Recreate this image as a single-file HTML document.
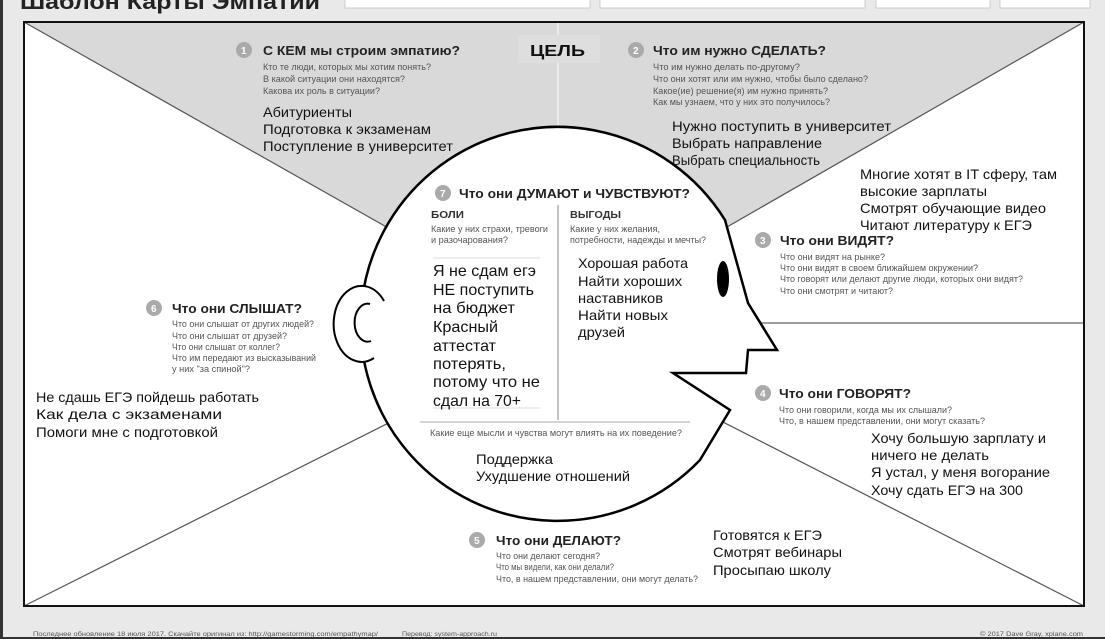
<!DOCTYPE html>
<html><head><meta charset="utf-8"><style>
html,body{margin:0;padding:0;background:#e9e9e9;}
svg{display:block;font-family:"Liberation Sans","DejaVu Sans",sans-serif;}
.q{font-size:9px;fill:#555;}
.h{font-size:13px;font-weight:bold;fill:#222;}
.a{font-size:14px;fill:#111;}
.n{fill:#aaa;}
.nt{font-size:10px;fill:#fff;font-weight:bold;}
</style></head><body>
<svg width="1105" height="639" viewBox="0 0 1105 639" xmlns="http://www.w3.org/2000/svg">
<rect x="0" y="0" width="1105" height="639" fill="#e9e9e9"/>
<rect x="0" y="0" width="3" height="639" fill="#333"/>
<rect x="0" y="637" width="1105" height="2" fill="#333"/>
<!-- top title strip -->
<text x="20" y="9" font-size="21" font-weight="bold" fill="#222" textLength="300" lengthAdjust="spacingAndGlyphs">Шаблон Карты Эмпатии</text>
<rect x="345" y="-2" width="245" height="10" fill="#fff" stroke="#ccc"/>
<rect x="600" y="-2" width="265" height="10" fill="#fff" stroke="#ccc"/>
<rect x="876" y="-2" width="114" height="10" fill="#fff" stroke="#ccc"/>
<rect x="1000" y="-2" width="90" height="10" fill="#fff" stroke="#ccc"/>
<!-- frame -->
<rect x="24" y="22" width="1060" height="584" fill="#fff"/>
<polygon points="24,22 1084,22 558,324" fill="#d9d9d9"/>
<line x1="558" y1="22" x2="558" y2="130" stroke="#f2f2f2" stroke-width="1.5"/>
<rect x="518" y="35" width="82" height="28" fill="#dedede"/>
<line x1="24" y1="22" x2="558" y2="324" stroke="#555" stroke-width="1.2"/>
<line x1="1084" y1="22" x2="558" y2="324" stroke="#555" stroke-width="1.2"/>
<line x1="24" y1="606" x2="558" y2="338" stroke="#555" stroke-width="1.2"/>
<line x1="1084" y1="606" x2="558" y2="338" stroke="#555" stroke-width="1.2"/>
<line x1="740" y1="323" x2="1084" y2="323" stroke="#666" stroke-width="1.2"/>
<rect x="24" y="22" width="1060" height="584" fill="none" stroke="#111" stroke-width="2"/>
<!-- head -->
<path d="M725,220 L748,303 L777,350 L748,350 L746,373 L673,373 L730,410 L700,460 A197 197 0 1 1 725 220 Z" fill="#fff" stroke="#000" stroke-width="2.5" stroke-linejoin="miter"/>
<ellipse cx="723" cy="279" rx="6" ry="18" fill="#000"/>
<path d="M384,301 A28 38 0 1 0 374,358" fill="#fff" stroke="#000" stroke-width="2"/>
<path d="M370,304 A13 19 0 1 0 371,341" fill="none" stroke="#000" stroke-width="2"/>
<!-- inner dividers -->
<line x1="558" y1="205" x2="558" y2="420" stroke="#999" stroke-width="1.2"/>
<line x1="420" y1="422" x2="690" y2="422" stroke="#bbb" stroke-width="1.2"/>
<line x1="433" y1="258" x2="540" y2="258" stroke="#ddd" stroke-width="1"/>
<line x1="433" y1="408" x2="540" y2="408" stroke="#ddd" stroke-width="1"/>

<!-- ЦЕЛЬ -->
<text x="530" y="56" font-size="16" font-weight="bold" fill="#111" textLength="55" lengthAdjust="spacingAndGlyphs">ЦЕЛЬ</text>

<!-- 1 -->
<circle class="n" cx="244" cy="50" r="8"/><text class="nt" x="241" y="54">1</text>
<text class="h" x="263" y="55" textLength="197" lengthAdjust="spacingAndGlyphs">С КЕМ мы строим эмпатию?</text>
<text class="q" x="263" y="70" textLength="168" lengthAdjust="spacingAndGlyphs">Кто те люди, которых мы хотим понять?</text>
<text class="q" x="263" y="82" textLength="142" lengthAdjust="spacingAndGlyphs">В какой ситуации они находятся?</text>
<text class="q" x="263" y="94" textLength="117" lengthAdjust="spacingAndGlyphs">Какова их роль в ситуации?</text>
<text class="a" x="263" y="117" textLength="89" lengthAdjust="spacingAndGlyphs">Абитуриенты</text>
<text class="a" x="263" y="134" textLength="168" lengthAdjust="spacingAndGlyphs">Подготовка к экзаменам</text>
<text class="a" x="263" y="151" textLength="190" lengthAdjust="spacingAndGlyphs">Поступление в университет</text>

<!-- 2 -->
<circle class="n" cx="636" cy="50" r="8"/><text class="nt" x="633" y="54">2</text>
<text class="h" x="653" y="55" textLength="173" lengthAdjust="spacingAndGlyphs">Что им нужно СДЕЛАТЬ?</text>
<text class="q" x="653" y="70" textLength="147" lengthAdjust="spacingAndGlyphs">Что им нужно делать по-другому?</text>
<text class="q" x="653" y="82" textLength="215" lengthAdjust="spacingAndGlyphs">Что они хотят или им нужно, чтобы было сделано?</text>
<text class="q" x="653" y="94" textLength="175" lengthAdjust="spacingAndGlyphs">Какое(ие) решение(я) им нужно принять?</text>
<text class="q" x="653" y="105" textLength="177" lengthAdjust="spacingAndGlyphs">Как мы узнаем, что у них это получилось?</text>
<text class="a" x="672" y="131" textLength="219" lengthAdjust="spacingAndGlyphs">Нужно поступить в университет</text>
<text class="a" x="672" y="148" textLength="150" lengthAdjust="spacingAndGlyphs">Выбрать направление</text>
<text class="a" x="672" y="165" textLength="148" lengthAdjust="spacingAndGlyphs">Выбрать специальность</text>

<text class="a" x="860" y="179" textLength="197" lengthAdjust="spacingAndGlyphs">Многие хотят в IT сферу, там</text>
<text class="a" x="860" y="196" textLength="127" lengthAdjust="spacingAndGlyphs">высокие зарплаты</text>
<text class="a" x="860" y="213" textLength="186" lengthAdjust="spacingAndGlyphs">Смотрят обучающие видео</text>
<text class="a" x="860" y="230" textLength="172" lengthAdjust="spacingAndGlyphs">Читают литературу к ЕГЭ</text>

<!-- 3 -->
<circle class="n" cx="763" cy="240" r="8"/><text class="nt" x="760" y="244">3</text>
<text class="h" x="780" y="245" textLength="114" lengthAdjust="spacingAndGlyphs">Что они ВИДЯТ?</text>
<text class="q" x="780" y="260" textLength="105" lengthAdjust="spacingAndGlyphs">Что они видят на рынке?</text>
<text class="q" x="780" y="271" textLength="198" lengthAdjust="spacingAndGlyphs">Что они видят в своем ближайшем окружении?</text>
<text class="q" x="780" y="282" textLength="243" lengthAdjust="spacingAndGlyphs">Что говорят или делают другие люди, которых они видят?</text>
<text class="q" x="780" y="294" textLength="113" lengthAdjust="spacingAndGlyphs">Что они смотрят и читают?</text>

<!-- 4 -->
<circle class="n" cx="763" cy="393" r="8"/><text class="nt" x="760" y="397">4</text>
<text class="h" x="779" y="398" textLength="132" lengthAdjust="spacingAndGlyphs">Что они ГОВОРЯТ?</text>
<text class="q" x="779" y="413" textLength="173" lengthAdjust="spacingAndGlyphs">Что они говорили, когда мы их слышали?</text>
<text class="q" x="779" y="424" textLength="206" lengthAdjust="spacingAndGlyphs">Что, в нашем представлении, они могут сказать?</text>
<text class="a" x="871" y="443" textLength="175" lengthAdjust="spacingAndGlyphs">Хочу большую зарплату и</text>
<text class="a" x="871" y="460" textLength="118" lengthAdjust="spacingAndGlyphs">ничего не делать</text>
<text class="a" x="871" y="477" textLength="179" lengthAdjust="spacingAndGlyphs">Я устал, у меня вогорание</text>
<text class="a" x="871" y="495" textLength="152" lengthAdjust="spacingAndGlyphs">Хочу сдать ЕГЭ на 300</text>

<!-- 5 -->
<circle class="n" cx="477" cy="540" r="8"/><text class="nt" x="474" y="544">5</text>
<text class="h" x="496" y="545" textLength="125" lengthAdjust="spacingAndGlyphs">Что они ДЕЛАЮТ?</text>
<text class="q" x="496" y="559" textLength="104" lengthAdjust="spacingAndGlyphs">Что они делают сегодня?</text>
<text class="q" x="496" y="570" textLength="118" lengthAdjust="spacingAndGlyphs">Что мы видели, как они делали?</text>
<text class="q" x="496" y="582" textLength="202" lengthAdjust="spacingAndGlyphs">Что, в нашем представлении, они могут делать?</text>
<text class="a" x="713" y="540" textLength="109" lengthAdjust="spacingAndGlyphs">Готовятся к ЕГЭ</text>
<text class="a" x="713" y="557" textLength="129" lengthAdjust="spacingAndGlyphs">Смотрят вебинары</text>
<text class="a" x="713" y="575" textLength="118" lengthAdjust="spacingAndGlyphs">Просыпаю школу</text>

<!-- 6 -->
<circle class="n" cx="154" cy="308" r="8"/><text class="nt" x="151" y="312">6</text>
<text class="h" x="172" y="313" textLength="130" lengthAdjust="spacingAndGlyphs">Что они СЛЫШАТ?</text>
<text class="q" x="172" y="327" textLength="142" lengthAdjust="spacingAndGlyphs">Что они слышат от других людей?</text>
<text class="q" x="172" y="339" textLength="115" lengthAdjust="spacingAndGlyphs">Что они слышат от друзей?</text>
<text class="q" x="172" y="350" textLength="108" lengthAdjust="spacingAndGlyphs">Что они слышат от коллег?</text>
<text class="q" x="172" y="361" textLength="144" lengthAdjust="spacingAndGlyphs">Что им передают из высказываний</text>
<text class="q" x="172" y="372" textLength="78" lengthAdjust="spacingAndGlyphs">у них "за спиной"?</text>
<text class="a" x="36" y="402" textLength="223" lengthAdjust="spacingAndGlyphs">Не сдашь ЕГЭ пойдешь работать</text>
<text class="a" x="36" y="419" textLength="186" lengthAdjust="spacingAndGlyphs">Как дела с экзаменами</text>
<text class="a" x="36" y="437" textLength="182" lengthAdjust="spacingAndGlyphs">Помоги мне с подготовкой</text>

<!-- 7 -->
<circle class="n" cx="443" cy="193" r="8"/><text class="nt" x="440" y="197">7</text>
<text class="h" x="459" y="198" textLength="231" lengthAdjust="spacingAndGlyphs">Что они ДУМАЮТ и ЧУВСТВУЮТ?</text>
<text x="431" y="218" font-size="10" font-weight="bold" fill="#333" textLength="33" lengthAdjust="spacingAndGlyphs">БОЛИ</text>
<text class="q" x="431" y="232" font-size="8.5" textLength="117" lengthAdjust="spacingAndGlyphs">Какие у них страхи, тревоги</text>
<text class="q" x="431" y="243" font-size="8.5" textLength="77" lengthAdjust="spacingAndGlyphs">и разочарования?</text>
<text x="570" y="218" font-size="10" font-weight="bold" fill="#333" textLength="51" lengthAdjust="spacingAndGlyphs">ВЫГОДЫ</text>
<text class="q" x="570" y="232" font-size="8.5" textLength="90" lengthAdjust="spacingAndGlyphs">Какие у них желания,</text>
<text class="q" x="570" y="243" font-size="8.5" textLength="136" lengthAdjust="spacingAndGlyphs">потребности, надежды и мечты?</text>
<g font-size="16" fill="#111">
<text x="433" y="276" textLength="103" lengthAdjust="spacingAndGlyphs">Я не сдам егэ</text>
<text x="433" y="295" textLength="101" lengthAdjust="spacingAndGlyphs">НЕ поступить</text>
<text x="433" y="313" textLength="82" lengthAdjust="spacingAndGlyphs">на бюджет</text>
<text x="433" y="332" textLength="65" lengthAdjust="spacingAndGlyphs">Красный</text>
<text x="433" y="351" textLength="63" lengthAdjust="spacingAndGlyphs">аттестат</text>
<text x="433" y="369" textLength="73" lengthAdjust="spacingAndGlyphs">потерять,</text>
<text x="433" y="387" textLength="107" lengthAdjust="spacingAndGlyphs">потому что  не</text>
<text x="433" y="406" textLength="88" lengthAdjust="spacingAndGlyphs">сдал на 70+</text>
</g>
<text class="a" x="578" y="268" textLength="110" lengthAdjust="spacingAndGlyphs">Хорошая работа</text>
<text class="a" x="578" y="286" textLength="104" lengthAdjust="spacingAndGlyphs">Найти хороших</text>
<text class="a" x="578" y="303" textLength="85" lengthAdjust="spacingAndGlyphs">наставников</text>
<text class="a" x="578" y="320" textLength="90" lengthAdjust="spacingAndGlyphs">Найти  новых</text>
<text class="a" x="578" y="337" textLength="47" lengthAdjust="spacingAndGlyphs">друзей</text>
<text class="q" x="430" y="436" font-size="8.5" textLength="252" lengthAdjust="spacingAndGlyphs">Какие еще мысли и чувства могут влиять на их поведение?</text>
<text class="a" x="476" y="464" textLength="77" lengthAdjust="spacingAndGlyphs">Поддержка</text>
<text class="a" x="476" y="481" textLength="154" lengthAdjust="spacingAndGlyphs">Ухудшение отношений</text>

<!-- footer -->
<text x="33" y="636" font-size="6" fill="#555" textLength="345" lengthAdjust="spacingAndGlyphs">Последнее обновление 18 июля 2017. Скачайте оригинал из:  http://gamestorming.com/empathymap/</text>
<text x="402" y="636" font-size="6" fill="#555" textLength="95" lengthAdjust="spacingAndGlyphs">Перевод: system-approach.ru</text>
<text x="980" y="636" font-size="6" fill="#555" textLength="103" lengthAdjust="spacingAndGlyphs">© 2017 Dave Gray, xplane.com</text>
</svg>
</body></html>
